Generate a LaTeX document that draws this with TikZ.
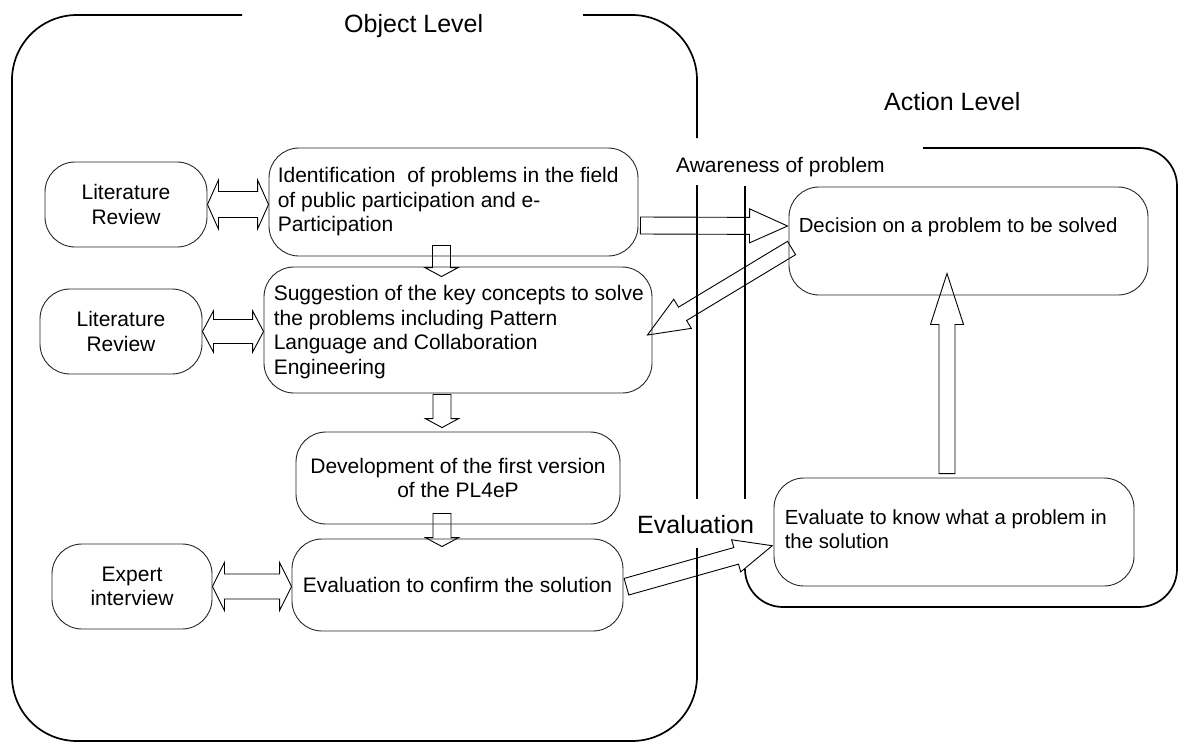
\documentclass[tikz,border=0pt]{standalone}
\usepackage{fontspec}
\setmainfont{Liberation Sans}
\usetikzlibrary{calc}

\newcommand\fbody{\fontsize{21}{24.5}\selectfont}
\newcommand\fside{\fontsize{20.4}{24.5}\selectfont}
\newcommand\ftitle{\fontsize{25}{30}\selectfont}
\newcommand\fmid{\fontsize{21}{25}\selectfont}

\pgfdeclarelayer{under}
\pgfsetlayers{under,main}

\tikzset{
  stage/.style={draw=black!85, line width=0.9pt, rounded corners=30pt, inner sep=0pt},
  boxtext/.style={inner sep=0pt, align=left, font=\fbody},
  levelline/.style={draw=black, line width=1.7pt},
  arrowbody/.style={draw=black, line width=0.9pt, fill=white, line join=miter},
  lbl/.style={anchor=base west, inner sep=0pt},
}

% block arrow: #1 tail, #2 tip, #3 shaft half-width, #4 head half-width, #5 head length
\newcommand\blockarrow[5]{%
  \draw[arrowbody] let \p2=($#2!#5!#1$) in
    ($#1!#3!90:#2$) -- ($(\p2)!#3!90:#2$) -- ($(\p2)!#4!90:#2$) -- #2
    -- ($(\p2)!#4!-90:#2$) -- ($(\p2)!#3!-90:#2$) -- ($#1!#3!-90:#2$) -- cycle;}

% double-headed block arrow between #1 and #2
\newcommand\dblarrow[5]{%
  \draw[arrowbody] let \p2=($#1!#5!#2$), \p3=($#2!#5!#1$) in
    #1 -- ($(\p2)!#4!90:#2$) -- ($(\p2)!#3!90:#2$) -- ($(\p3)!#3!90:#2$)
    -- ($(\p3)!#4!90:#2$) -- #2 -- ($(\p3)!#4!-90:#2$) -- ($(\p3)!#3!-90:#2$)
    -- ($(\p2)!#3!-90:#2$) -- ($(\p2)!#4!-90:#2$) -- cycle;}

\begin{document}
\begin{tikzpicture}[x=1pt,y=-1pt]
\useasboundingbox (0,0) rectangle (1183,742);

% ---- stage boxes ----
\node[stage, minimum width=162pt, minimum height=85pt, align=center, font=\fbody]
  (lit1) at (126,204.5) {Literature\\Review};
\node[stage, minimum width=162pt, minimum height=85pt, align=center, font=\fbody]
  (lit2) at (121,331.5) {Literature\\Review};
\node[stage, minimum width=160pt, minimum height=85pt, align=center, font=\fbody]
  (expert) at (132,586.5) {Expert\\interview};

\node[stage, minimum width=369pt, minimum height=108pt] (ident) at (453.5,202) {};
\node[boxtext, anchor=west] (identt) at ($(ident.west)+(9,0)$)
  {Identification\ \ of problems in the field\\of public participation and e-\\Participation};

\node[stage, minimum width=388pt, minimum height=126pt] (sugg) at (458,330) {};
\node[boxtext, anchor=west] (suggt) at ($(sugg.west)+(10,2)$)
  {Suggestion of the key concepts to solve\\the problems including Pattern\\Language and Collaboration\\Engineering};

\node[stage, minimum width=324pt, minimum height=92pt, align=center, font=\fbody]
  (dev) at (458,478) {Development of the first version\\of the PL4eP};

\node[stage, minimum width=331pt, minimum height=92pt, align=center, font=\fbody]
  (evalc) at (457.5,585) {Evaluation to confirm the solution};

\node[stage, minimum width=359pt, minimum height=108pt] (decision) at (968.5,241) {};
\node[lbl, font=\fside] (dect) at ($(decision.north west)+(10,46)$)
  {Decision on a problem to be solved};

\node[stage, minimum width=360pt, minimum height=108pt] (evaluate) at (954,532) {};
\node[boxtext, font=\fside, anchor=west] (evat) at ($(evaluate.west)+(11,-3)$)
  {Evaluate to know what a problem in\\the solution};

% ---- level frames ----
\draw[levelline, rounded corners=65pt] (242,15) -- (12,15) -- (12,741) -- (697,741) -- (697,548);
\draw[levelline] (697,499) -- (697,185);
\draw[levelline, rounded corners=65pt] (697,138) -- (697,15) -- (583,15);

\draw[levelline] (745,499) -- (745,186);
\draw[levelline, rounded corners=38pt] (923,148) -- (1177,148) -- (1177,607) -- (745,607) -- (745,569);

% ---- labels ----
\node[lbl, font=\ftitle] (objlbl) at (344,32) {Object Level};
\node[lbl, font=\ftitle] (actlbl) at (884,110) {Action Level};
\node[lbl, font=\fmid] (awarelbl) at (676,172) {Awareness of problem};
\node[lbl, font=\ftitle] (evallbl) at (637,533) {Evaluation};

% ---- connectors ----
\coordinate (a1s) at ($(ident.east)+(2,23.5)$);
\coordinate (a1e) at ($(decision.west)+(-1,-15)$);
\coordinate (a2s) at ($(decision.west)+(3,7)$);
\coordinate (a2e) at ($(sugg.east)+(-5,5)$);
\coordinate (a3s) at ($(evaluate.north)+(-7,-4)$);
\coordinate (a3e) at ($(decision.south)+(-21.5,-22)$);
\coordinate (a4s) at ($(evalc.east)+(3,1.7)$);
\coordinate (a4e) at ($(evaluate.west)+(-1.3,13.7)$);
\coordinate (d1s) at ($(ident.south)+(-12,-11)$);
\coordinate (d1e) at ($(sugg.north)+(-16.5,10)$);
\coordinate (d2s) at ($(sugg.south)+(-16,1)$);
\coordinate (d2e) at ($(dev.north)+(-16,-4)$);
\coordinate (d3s) at ($(dev.south)+(-16,-11)$);
\coordinate (d3e) at ($(evalc.north)+(-15.5,8)$);

\begin{pgfonlayer}{under}
\blockarrow{(a1s)}{(a1e)}{8.5pt}{17pt}{38pt}
\blockarrow{(a2s)}{(a2e)}{7.8pt}{17pt}{41pt}
\blockarrow{(a3s)}{(a3e)}{8pt}{16.5pt}{51pt}
\blockarrow{(a4s)}{(a4e)}{8.6pt}{16.7pt}{37.5pt}
\blockarrow{(d1s)}{(d1e)}{9pt}{16.7pt}{9pt}
\blockarrow{(d2s)}{(d2e)}{9pt}{16.7pt}{9pt}
\blockarrow{(d3s)}{(d3e)}{9pt}{16.7pt}{9pt}
\dblarrow{(lit1.east)}{(ident.west |- lit1.east)}{13pt}{24.5pt}{11pt}
\dblarrow{(lit2.east)}{(sugg.west |- lit2.east)}{12pt}{20.7pt}{11pt}
\dblarrow{(expert.east)}{(evalc.west |- expert.east)}{12.5pt}{24pt}{12pt}
\end{pgfonlayer}
\end{tikzpicture}
\end{document}
